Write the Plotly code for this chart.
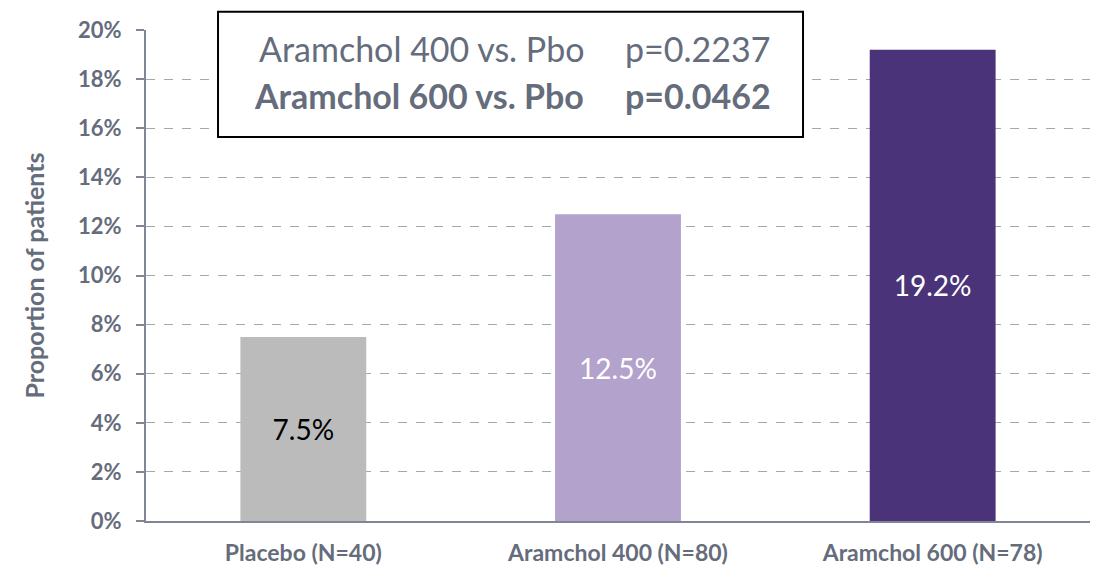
import plotly.graph_objects as go

# Dados do gráfico
categorias = ["Placebo (N=40)", "Aramchol 400 (N=80)", "Aramchol 600 (N=78)"]
proporcoes = [0.075, 0.125, 0.192]
rotulos = ["7.5%", "12.5%", "19.2%"]
cores_barras = ["#BBBBBB", "#B3A2CC", "#4A3378"]
cores_texto = ["black", "white", "white"]
comparacoes = ["Aramchol 400 vs. Pbo", "Aramchol 600 vs. Pbo"]
p_valores = ["p=0.2237", "p=0.0462"]

COR_EIXO = "#7F8796"
COR_TEXTO = "#656C7C"
FONTE = "Lato"

fig = go.Figure(
    go.Bar(
        x=categorias,
        y=proporcoes,
        text=rotulos,
        textposition="inside",
        insidetextanchor="middle",
        textfont=dict(family=FONTE, size=28, color=cores_texto),
        marker=dict(color=cores_barras, line=dict(width=0)),
        width=0.4,
        hoverinfo="skip",
    )
)

# a página tem margem de 8px no body, então compensa aqui
fig.update_layout(
    width=1091,
    height=564,
    margin=dict(l=138, r=9, t=22, b=51),
    plot_bgcolor="white",
    paper_bgcolor="white",
    showlegend=False,
    font=dict(family=FONTE, color=COR_TEXTO),
)

fig.update_yaxes(
    range=[0, 0.2],
    dtick=0.02,
    tickformat=".0%",
    showline=True,
    linecolor=COR_EIXO,
    linewidth=2,
    ticks="outside",
    ticklen=8,
    tickwidth=1.5,
    tickcolor=COR_EIXO,
    ticklabelstandoff=10,
    tickfont=dict(family=FONTE, size=22, color=COR_TEXTO, weight="bold"),
    showgrid=True,
    gridcolor="#9FA7B8",
    griddash="dash",
    gridwidth=1,
    zeroline=False,
    automargin=False,
    title=dict(
        text="Proportion of patients",
        font=dict(family=FONTE, size=25, color=COR_TEXTO, weight="bold"),
        standoff=26,
    ),
)

fig.update_xaxes(
    showline=True,
    linecolor=COR_EIXO,
    linewidth=2,
    ticks="",
    automargin=False,
    tickfont=dict(family=FONTE, size=23, color=COR_TEXTO, weight="bold"),
    ticklabelstandoff=10,
)

# Caixa com os p-valores
fig.add_shape(
    type="rect",
    xref="paper",
    yref="paper",
    x0=0.0763,
    x1=0.696,
    y0=0.782,
    y1=1.037,
    line=dict(color="black", width=2),
    fillcolor="white",
    layer="above",
)

for comp, pv, yy, peso in zip(comparacoes, p_valores, [0.963, 0.867], ["normal", "bold"]):
    fig.add_annotation(
        xref="paper", yref="paper", x=0.466, y=yy, xanchor="right", yanchor="middle",
        text=comp, showarrow=False,
        font=dict(family=FONTE, size=34, color=COR_TEXTO, weight=peso),
    )
    fig.add_annotation(
        xref="paper", yref="paper", x=0.505, y=yy, xanchor="left", yanchor="middle",
        text=pv, showarrow=False,
        font=dict(family=FONTE, size=34, color=COR_TEXTO, weight=peso),
    )

fig.write_html("out.html")
